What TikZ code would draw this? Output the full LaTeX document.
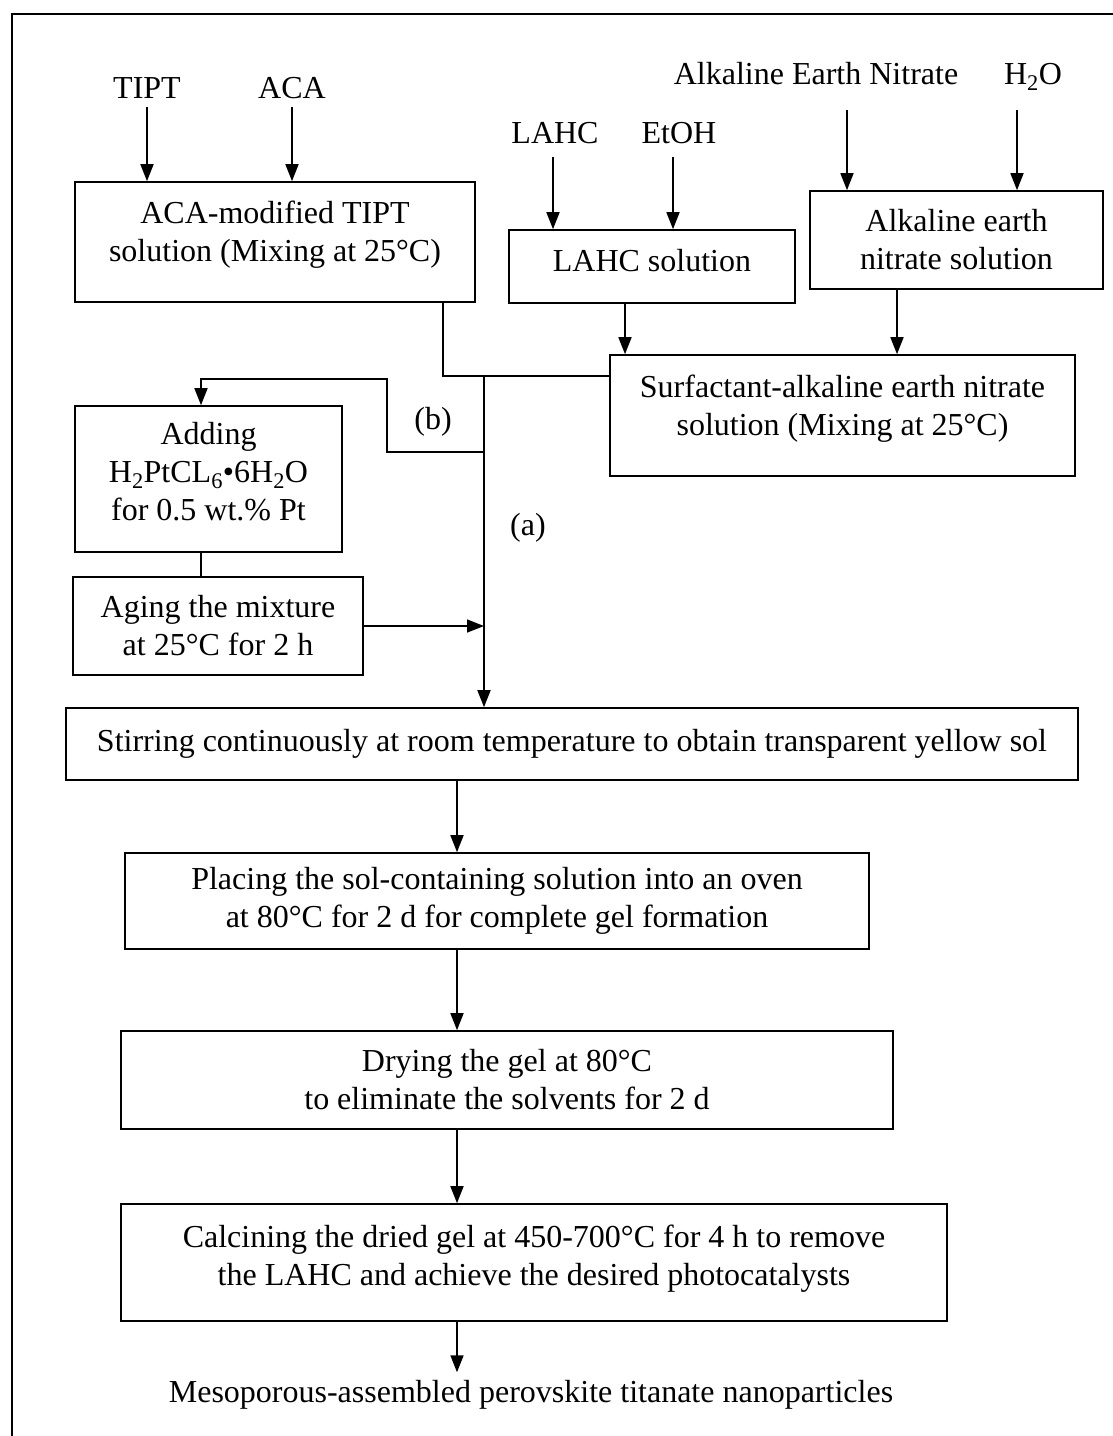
\documentclass[tikz,border=0pt]{standalone}
\usepackage{fontspec}
\setmainfont{Liberation Serif}
\usetikzlibrary{arrows.meta}

\tikzset{
  procbox/.style={draw, line width=1.6pt, align=center, inner sep=0pt},
  inlabel/.style={inner sep=8pt},
  flow/.style={line width=1.6pt, -{Triangle[length=17pt,width=13pt]}},
  link/.style={line width=1.6pt},
}

\begin{document}
\begin{tikzpicture}[x=1pt,y=-1pt,font=\fontsize{32}{38}\selectfont]
\useasboundingbox (0,0) rectangle (1113,1436);
\draw[link] (12,1436) -- (12,14) -- (1113,14);

% starting materials
\node[inlabel] (tipt) at (147,88) {TIPT};
\node[inlabel] (aca) at (292,88) {ACA};
\node[inlabel] (lahc) at (555,133) {LAHC};
\node[inlabel] (etoh) at (679,133) {EtOH};
\node[inlabel] (alkn) at (816,74) {Alkaline Earth Nitrate};
\node[inlabel, text depth=0pt] (water) at (1033,74) {H\textsubscript{2}O};

% solutions
\node[procbox, minimum width=400, minimum height=120, text depth=21pt] (acamod) at (275,242)
  {ACA-modified TIPT\\solution (Mixing at 25°C)};
\node[procbox, minimum width=286, minimum height=73, text depth=12pt] (lahcsol) at (652,266.5)
  {LAHC solution};
\node[procbox, minimum width=293, minimum height=98] (alksol) at (956.5,240)
  {Alkaline earth\\nitrate solution};
\node[procbox, minimum width=465, minimum height=121, text depth=21pt] (surf) at (842.5,415.5)
  {Surfactant-alkaline earth nitrate\\solution (Mixing at 25°C)};

% route (b)
\node[procbox, minimum width=267, minimum height=146, text depth=15pt] (adding) at (208.5,479)
  {Adding\\H\textsubscript{2}PtCL\textsubscript{6}•6H\textsubscript{2}O\\for 0.5 wt.\% Pt};
\node[procbox, minimum width=290, minimum height=98] (aging) at (218,626)
  {Aging the mixture\\at 25°C for 2 h};
\node (lbb) at (433,422) {(b)};
\node (lba) at (528,528) {(a)};

% main steps
\node[procbox, minimum width=1012, minimum height=72] (stir) at (572,744)
  {Stirring continuously at room temperature to obtain transparent yellow sol};
\node[procbox, minimum width=744, minimum height=96] (placing) at (497,901)
  {Placing the sol-containing solution into an oven\\at 80°C for 2 d for complete gel formation};
\node[procbox, minimum width=772, minimum height=98] (drying) at (507,1080)
  {Drying the gel at 80°C\\to eliminate the solvents for 2 d};
\node[procbox, minimum width=826, minimum height=117, text depth=15pt] (calc) at (534,1262.5)
  {Calcining the dried gel at 450-700°C for 4 h to remove\\the LAHC and achieve the desired photocatalysts};
\node[inlabel] (product) at (531,1395) {Mesoporous-assembled perovskite titanate nanoparticles};

% helper points
\coordinate (lahcin) at ([xshift=-2pt,yshift=-5pt]lahc.south);
\coordinate (etohin) at ([xshift=-6pt,yshift=-5pt]etoh.south);
\coordinate (alkin) at ([xshift=31pt,yshift=-17pt]alkn.south);
\coordinate (waterin) at ([xshift=-16pt,yshift=-17pt]water.south);
\coordinate (lahcout) at ([xshift=-27pt]lahcsol.south);
\coordinate (alkout) at ([xshift=-59.5pt]alksol.south);
\coordinate (acaout) at ([xshift=168pt]acamod.south);
\coordinate (jtop) at (484,376);
\coordinate (jb) at (484,452);
\coordinate (bturn) at (387,379);
\coordinate (addin) at ([xshift=-7.5pt]adding.north);
\coordinate (addout) at ([xshift=-7.5pt]adding.south);
\coordinate (spine) at (457,0);

% inputs
\draw[flow] (tipt.south) -- (tipt.south |- acamod.north);
\draw[flow] (aca.south) -- (aca.south |- acamod.north);
\draw[flow] (lahcin) -- (lahcin |- lahcsol.north);
\draw[flow] (etohin) -- (etohin |- lahcsol.north);
\draw[flow] (alkin) -- (alkin |- alksol.north);
\draw[flow] (waterin) -- (waterin |- alksol.north);
\draw[flow] (lahcout) -- (lahcout |- surf.north);
\draw[flow] (alkout) -- (alkout |- surf.north);

% mixing
\draw[link] (acaout) |- (jtop) -- (jtop -| surf.west);
\draw[flow] (jtop) -- (jtop |- stir.north);
\draw[flow] (jb) -| (bturn) -| (addin);
\draw[link] (addout) -- (addout |- aging.north);
\draw[flow] (aging.east) -- (aging.east -| jtop);

% processing
\draw[flow] (spine |- stir.south) -- (spine |- placing.north);
\draw[flow] (spine |- placing.south) -- (spine |- drying.north);
\draw[flow] (spine |- drying.south) -- (spine |- calc.north);
\draw[flow] (spine |- calc.south) -- (spine |- product.north);

\end{tikzpicture}
\end{document}
